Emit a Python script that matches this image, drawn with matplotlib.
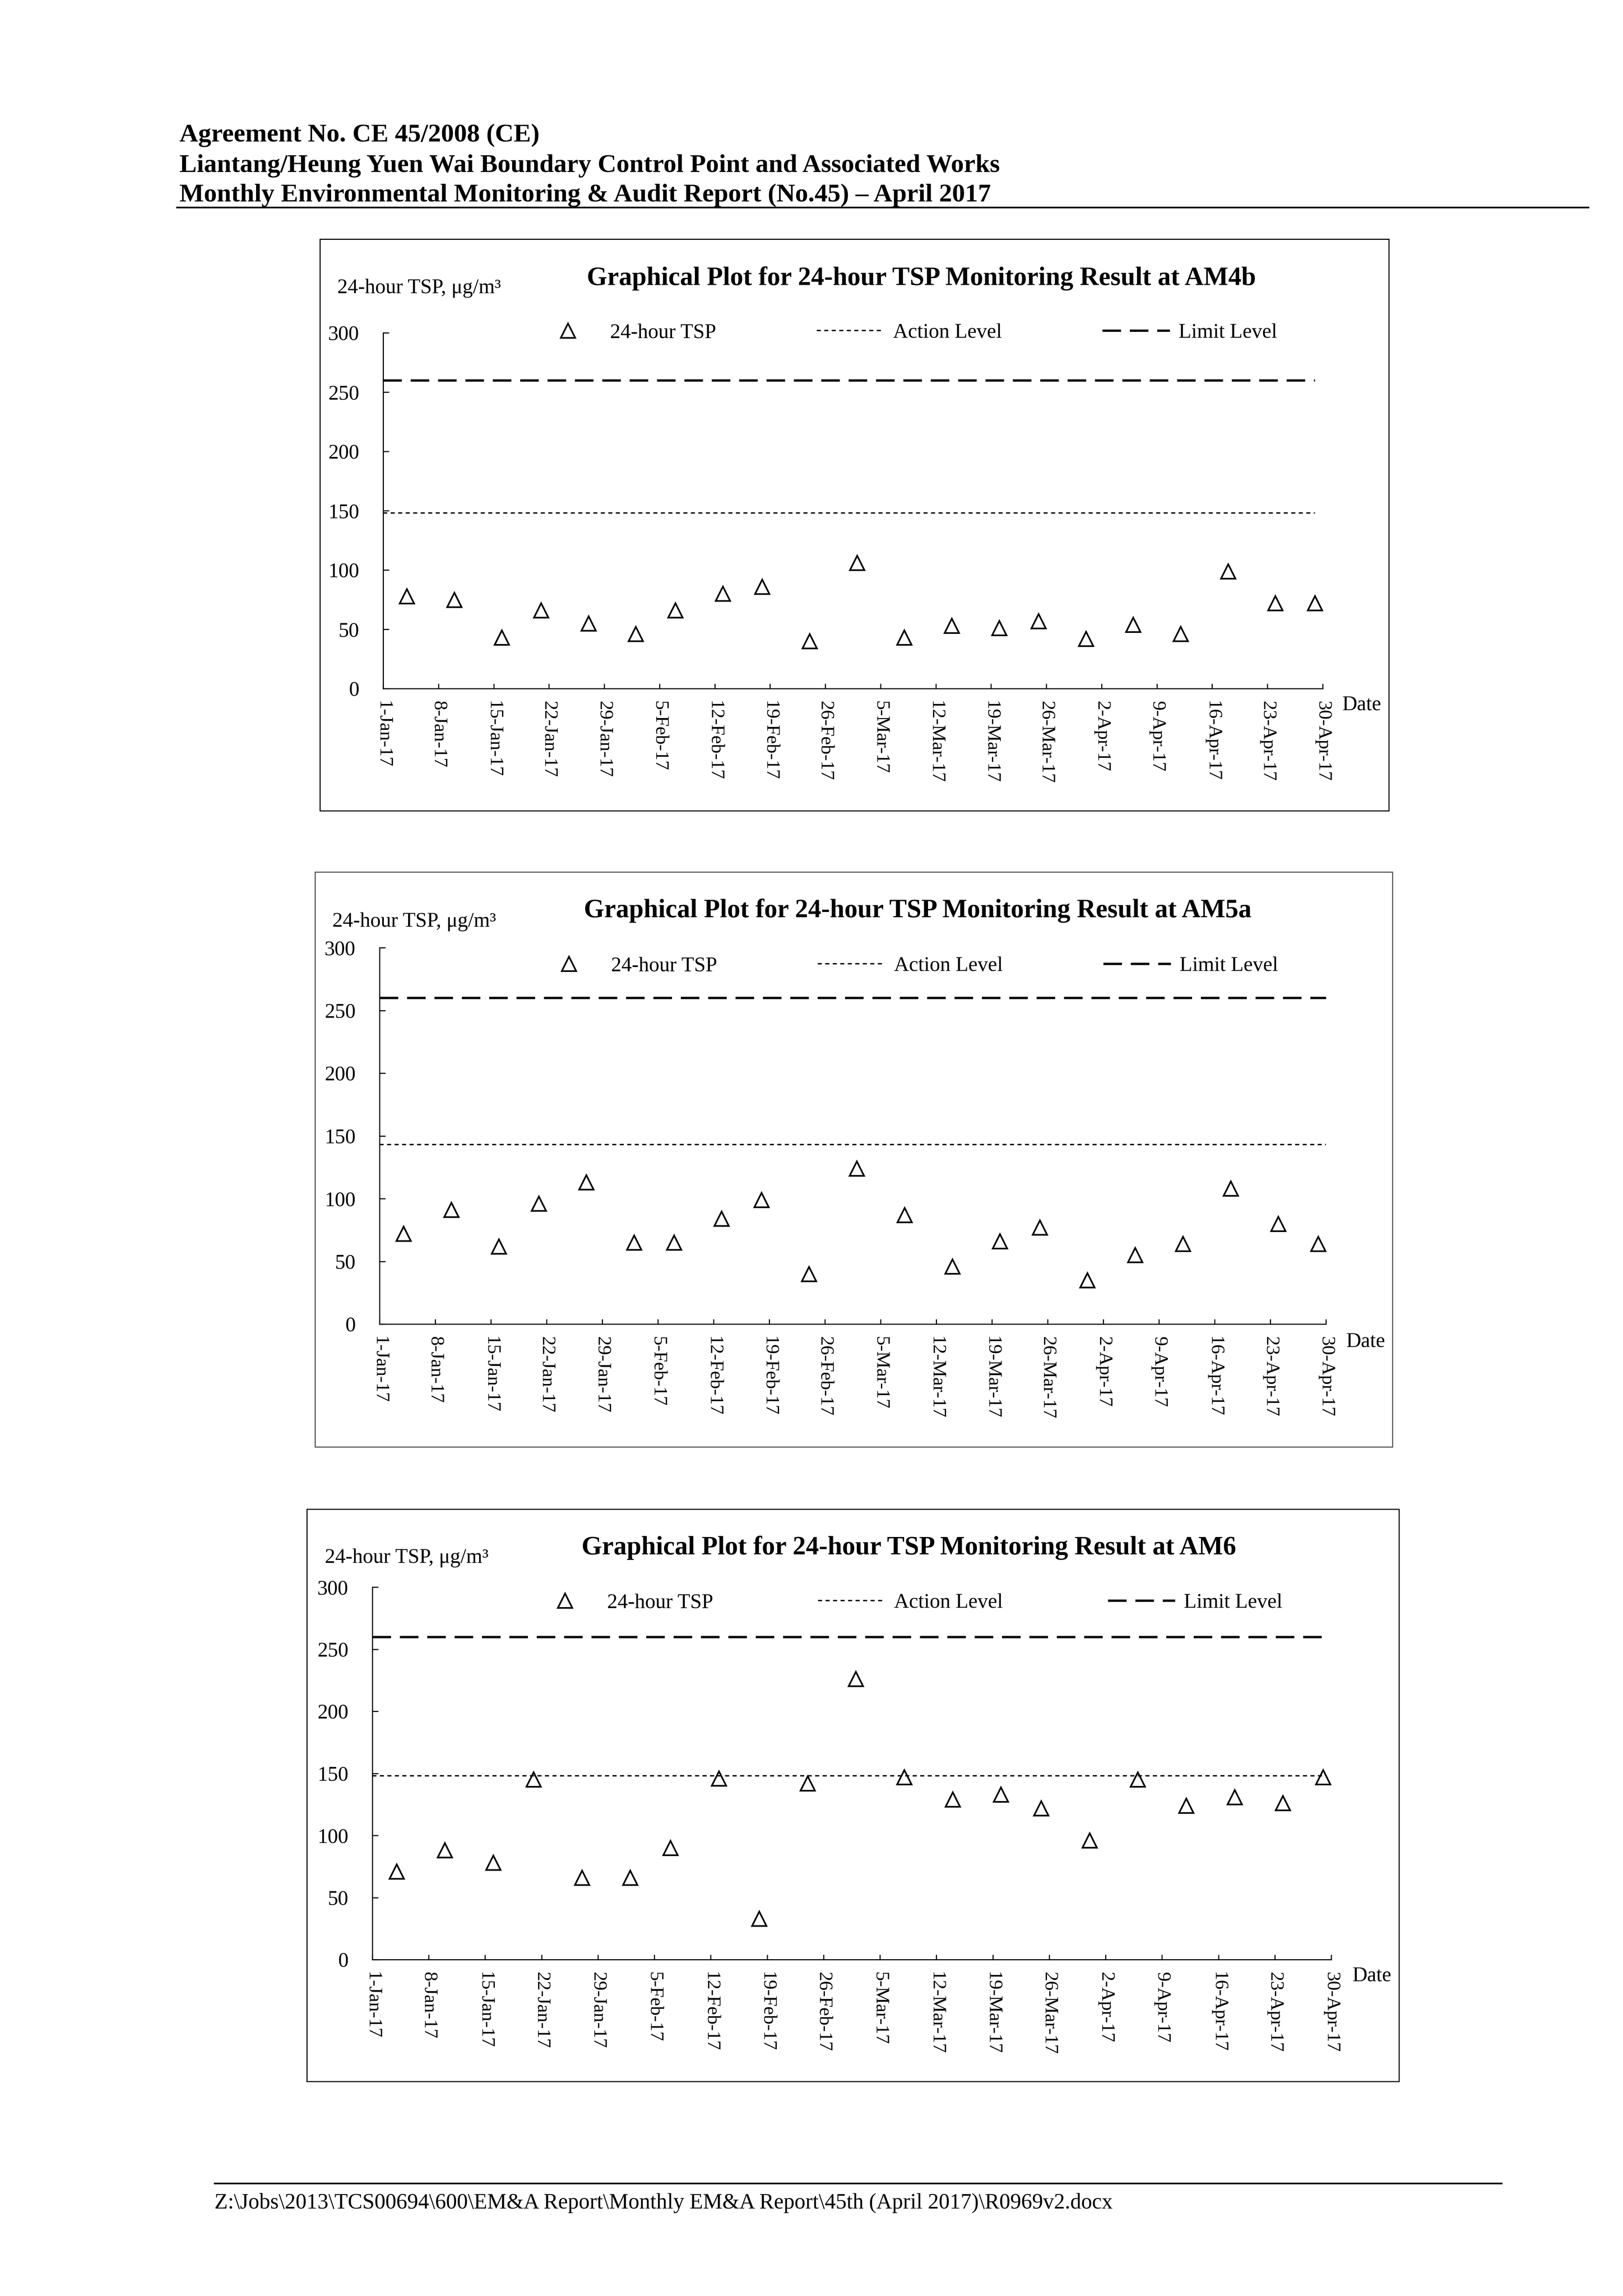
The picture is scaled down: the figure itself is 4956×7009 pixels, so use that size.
import matplotlib
matplotlib.use('Agg')
import matplotlib.pyplot as plt
import matplotlib.dates as mdates
from matplotlib.patches import Rectangle
from matplotlib.lines import Line2D
from matplotlib.ticker import FuncFormatter
import pandas as pd

# page size in pixels (A4 @ 600 dpi)
W, H = 4956, 7009
DPI = 600

# ---- data ----
stations = ['AM4b', 'AM5a', 'AM6']
sample_dates = pd.to_datetime([
    '2017-01-04', '2017-01-10', '2017-01-16', '2017-01-21', '2017-01-27',
    '2017-02-02', '2017-02-07', '2017-02-13', '2017-02-18', '2017-02-24',
    '2017-03-02', '2017-03-08', '2017-03-14', '2017-03-20', '2017-03-25',
    '2017-03-31', '2017-04-06', '2017-04-12', '2017-04-18', '2017-04-24',
    '2017-04-29'])
tsp_am4b = [78, 75, 43, 66, 55, 46, 66, 80, 86, 40, 106,
            43, 53, 51, 57, 42, 54, 46, 99, 72, 72]
tsp_am5a = [72, 91, 62, 96, 113, 65, 65, 84, 99, 40, 124,
            87, 46, 66, 77, 35, 55, 64, 108, 80, 64]
tsp_am6 = [71, 88, 78, 145, 66, 66, 90, 146, 33, 142, 226,
           147, 129, 133, 122, 96, 145, 124, 131, 126, 147]
action_levels = [148, 143, 148]
limit_levels = [260, 260, 260]
level_start = pd.Timestamp('2017-01-01')
level_end = pd.to_datetime(['2017-04-29', '2017-04-30', '2017-04-29'])
axis_start, axis_end = pd.Timestamp('2017-01-01'), pd.Timestamp('2017-04-30')
tick_dates = pd.date_range(axis_start, axis_end, freq='7D')
y_ticks = [0, 50, 100, 150, 200, 250, 300]

series = [tsp_am4b, tsp_am5a, tsp_am6]

# ---- layout (pixels on page) ----
box_px = [(977, 730, 4241, 2475), (962, 2662, 4252, 4417), (937, 4607, 4272, 6354)]
axes_px = [(1170, 1016, 4039, 2102), (1159, 2893, 4049, 4042), (1137, 4845, 4065, 5982)]
box_colors = ['black', '#555555', 'black']
title_pos = [(1792, 870), (1783, 2800), (1776, 4745)]
ylab_pos = [(1030, 895), (1015, 2829), (992, 4771)]
date_pos = [(4098, 2168), (4110, 4112), (4129, 6048)]
legend_pos = [(1631, 1016), (1634, 2949), (1622, 4893)]
legend_colsp = [4.85, 4.85, 5.05]

plt.rcParams['font.family'] = ['Liberation Serif', 'DejaVu Serif']


def fx(x):
    return x / W


def fy(y):
    return 1 - y / H


def date_fmt(v, pos):
    d = mdates.num2date(v)
    return f"{d.day}-{d:%b-%y}"


fig = plt.figure(figsize=(W / DPI, H / DPI), dpi=DPI)

# page header
header = ["Agreement No. CE 45/2008 (CE)",
          "Liantang/Heung Yuen Wai Boundary Control Point and Associated Works",
          "Monthly Environmental Monitoring & Audit Report (No.45) \u2013 April 2017"]
for s, yb in zip(header, [432, 525, 615]):
    fig.text(fx(548), fy(yb), s, fontsize=9.5, fontweight='bold', va='baseline')
fig.add_artist(Line2D([fx(540), fx(4850)], [fy(633), fy(633)], lw=0.6, color='black'))

# page footer
fig.add_artist(Line2D([fx(655), fx(4585)], [fy(6665), fy(6665)], lw=0.6, color='black'))
fig.text(fx(655), fy(6742),
         r"Z:\Jobs\2013\TCS00694\600\EM&A Report\Monthly EM&A Report\45th (April 2017)\R0969v2.docx",
         fontsize=8, va='baseline')

for i, st in enumerate(stations):
    l, t, r, b = box_px[i]
    fig.add_artist(Rectangle((fx(l), fy(b)), (r - l) / W, (b - t) / H,
                             transform=fig.transFigure, fill=False,
                             lw=0.4, edgecolor=box_colors[i]))

    x0, yt, x1, yb = axes_px[i]
    ax = fig.add_axes([fx(x0), fy(yb), (x1 - x0) / W, (yb - yt) / H])
    ax.patch.set_alpha(0)

    ax.plot(sample_dates, series[i], linestyle='none', marker='^', ms=5.2,
            mfc='none', mec='black', mew=0.6, label='24-hour TSP', clip_on=False)
    ax.plot([level_start, level_end[i]], [action_levels[i]] * 2, color='black',
            lw=0.5, linestyle=(0, (3, 2.5)), label='Action Level', clip_on=False)
    ax.plot([level_start, level_end[i]], [limit_levels[i]] * 2, color='black',
            lw=0.85, linestyle=(0, (8, 3.8)), label='Limit Level', clip_on=False)

    ax.set_xlim(axis_start, axis_end)
    ax.set_ylim(0, 300)
    ax.set_xticks(tick_dates)
    ax.xaxis.set_major_formatter(FuncFormatter(date_fmt))
    ax.set_yticks(y_ticks)
    ax.tick_params(axis='x', direction='in', length=1.8, width=0.4, pad=4.5,
                   labelsize=7, labelrotation=-90)
    ax.tick_params(axis='y', direction='in', length=2.2, width=0.4, pad=8.8,
                   labelsize=7.6)
    for side in ['top', 'right']:
        ax.spines[side].set_visible(False)
    for side in ['left', 'bottom']:
        ax.spines[side].set_linewidth(0.4)

    lx, ly = legend_pos[i]
    ax.legend(loc='center left', bbox_to_anchor=(fx(lx), fy(ly)),
              bbox_transform=fig.transFigure, ncol=3, frameon=False,
              fontsize=7.6, handlelength=3.25, handletextpad=0.42,
              columnspacing=legend_colsp[i], borderpad=0, borderaxespad=0,
              numpoints=1)

    tx, ty = title_pos[i]
    fig.text(fx(tx), fy(ty), f"Graphical Plot for 24-hour TSP Monitoring Result at {st}",
             fontsize=9.6, fontweight='bold', va='baseline')
    yx, yy = ylab_pos[i]
    fig.text(fx(yx), fy(yy), "24-hour TSP, \u03bcg/m\u00b3", fontsize=7.6, va='baseline')
    dx, dy = date_pos[i]
    fig.text(fx(dx), fy(dy), "Date", fontsize=7.6, va='baseline')

fig.savefig('out.png', dpi=DPI, facecolor='white')
